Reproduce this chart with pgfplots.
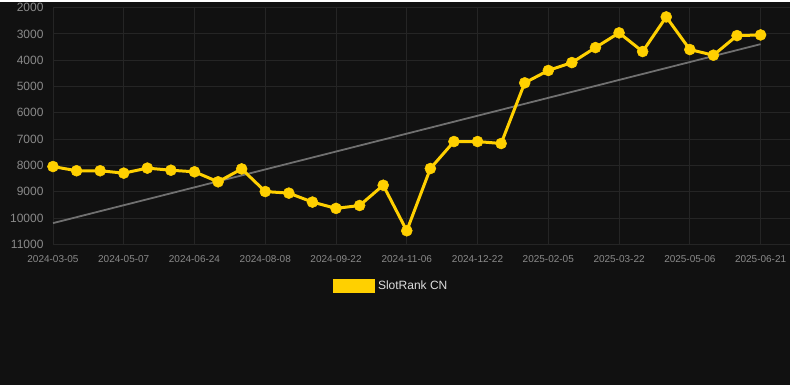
\documentclass[border=0pt]{standalone}
\usepackage{pgfplots}
\pgfplotsset{compat=1.18}
\usepackage{fontspec}
\setmainfont{Liberation Sans}
\definecolor{bg}{HTML}{111111}
\definecolor{gridc}{HTML}{252525}
\definecolor{ticklab}{HTML}{8A8A8A}
\definecolor{gold}{HTML}{FFD000}
\definecolor{trend}{HTML}{707070}
\definecolor{legtext}{HTML}{DDDDDD}
\begin{document}
\begin{tikzpicture}[x=1pt,y=1pt]
\fill[bg] (0,0) rectangle (790,384);
\begin{axis}[
  at={(53pt,141pt)}, anchor=south west,
  scale only axis, width=737pt, height=237pt,
  xmin=0, xmax=31.23, ymin=2000, ymax=11000,
  y dir=reverse,
  scaled y ticks=false,
  clip=false,
  axis line style={draw=none},
  major tick length=0pt,
  grid=major, grid style={gridc, line width=0.8pt},
  xtick={0,3,...,30},
  xticklabels={2024-03-05,2024-05-07,2024-06-24,2024-08-08,2024-09-22,2024-11-06,2024-12-22,2025-02-05,2025-03-22,2025-05-06,2025-06-21},
  ytick={2000,3000,...,11000},
  yticklabel style={font=\fontsize{12}{12}\selectfont, text=ticklab, anchor=east, xshift=-6pt},
  xticklabel style={font=\fontsize{10}{10}\selectfont, text=ticklab, yshift=-8pt},
  /pgf/number format/assume math mode=true,
  /pgf/number format/set thousands separator={},
  legend style={at={(0.38,-0.175)}, anchor=west, draw=none, fill=none,
    inner sep=0pt, font=\fontsize{12}{12}\selectfont, text=legtext,
    nodes={inner sep=0pt}},
  legend image code/.code={\fill[gold] (0pt,-5.5pt) rectangle (39pt,5.5pt); \path (42pt,0pt);},
]
\addplot[trend, line width=1.8pt, forget plot] coordinates {(0,10190) (30,3390)};
\addplot[gold, line width=3pt, mark=*, mark size=5.5pt, mark options={fill=gold, draw=gold, line width=0.5pt}]
coordinates {
(0,8040) (1,8200) (2,8200) (3,8290) (4,8100) (5,8180) (6,8240) (7,8620) (8,8130) (9,8990)
(10,9050) (11,9390) (12,9630) (13,9520) (14,8750) (15,10480) (16,8115) (17,7090) (18,7090) (19,7165)
(20,4860) (21,4390) (22,4090) (23,3520) (24,2960) (25,3670) (26,2355) (27,3595) (28,3810) (29,3065) (30,3040)
};
\addlegendentry{SlotRank CN}
\end{axis}
\end{tikzpicture}
\end{document}
